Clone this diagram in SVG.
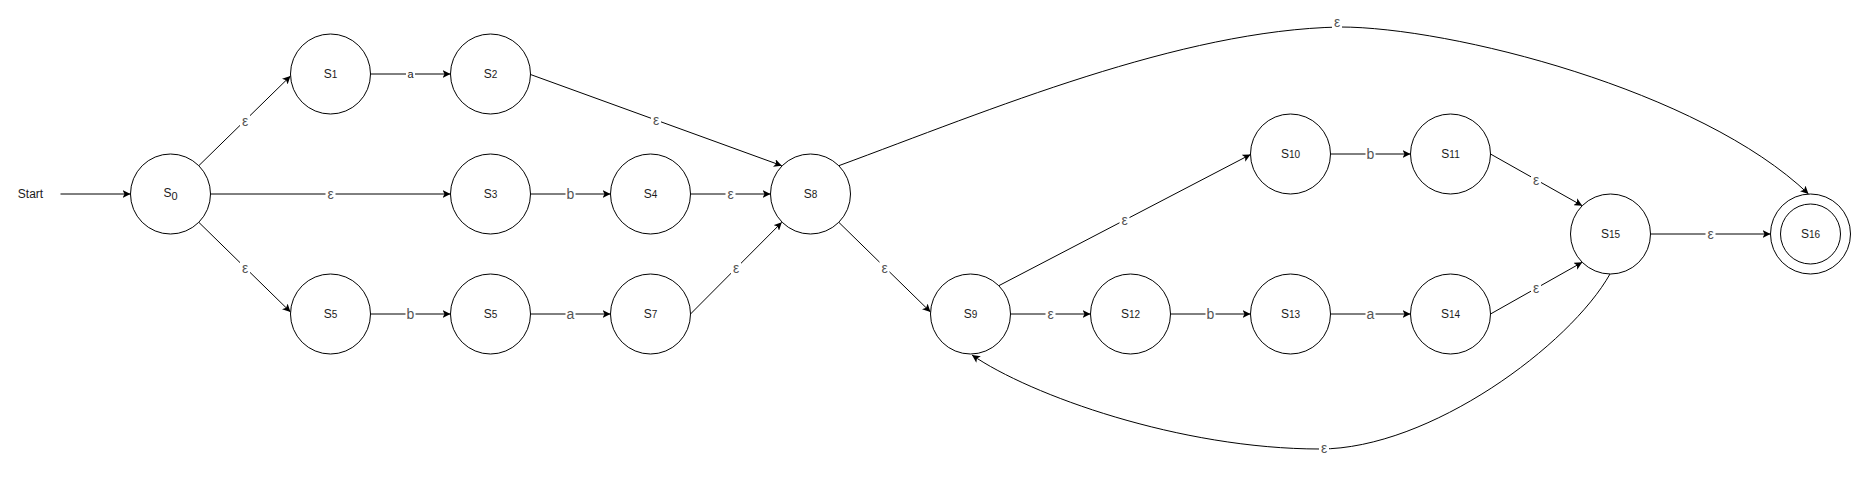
<svg xmlns="http://www.w3.org/2000/svg" width="1851" height="482" viewBox="0 0 1851 482">
<style>
.node{fill:#fff;stroke:#000;stroke-width:1}
.nt{font-family:"Liberation Sans",Arial,sans-serif;font-size:12px;fill:#1a1a1a;text-anchor:middle}
.sub{font-size:10px}
.edge{fill:none;stroke:#000;stroke-width:1;marker-end:url(#arr)}
.lbg{fill:#fff}
.lt{font-family:"Liberation Sans",Arial,sans-serif;font-size:14px;fill:#555;text-anchor:middle}
.lts{font-family:"Liberation Sans",Arial,sans-serif;font-size:11px;fill:#222;text-anchor:middle}
</style>
<defs>
<marker id="arr" viewBox="0 0 8 8" refX="8" refY="4" markerWidth="8" markerHeight="8" markerUnits="userSpaceOnUse" orient="auto">
<path d="M0,0 L8,4 L0,8 L2,4 Z" fill="#000"/>
</marker>
</defs>
<rect width="1851" height="482" fill="#fff"/>
<text class="nt" x="30.5" y="198">Start</text>
<g id="connectors">
<path class="edge" d="M60.5,194 H130.5"/>
<path class="edge" d="M198.8,165.7 L290.5,76"/>
<path class="edge" d="M210.5,194 H450.5"/>
<path class="edge" d="M198.8,222.3 L290.5,312"/>
<path class="edge" d="M370.5,74 H450.5"/>
<path class="edge" d="M530.5,194 H610.5"/>
<path class="edge" d="M370.5,314 H450.5"/>
<path class="edge" d="M530.5,314 H610.5"/>
<path class="edge" d="M530.5,74.5 L781.8,165.7"/>
<path class="edge" d="M690.5,194 H770.5"/>
<path class="edge" d="M690.5,314 L781.8,222.3"/>
<path class="edge" d="M838.8,222.3 L930.5,312"/>
<path class="edge" d="M998.8,285.7 L1250.5,154.5"/>
<path class="edge" d="M1010.5,314 H1090.5"/>
<path class="edge" d="M1170.5,314 H1250.5"/>
<path class="edge" d="M1330.5,154 H1410.5"/>
<path class="edge" d="M1330.5,314 H1410.5"/>
<path class="edge" d="M1490.5,154 L1582.2,205.7"/>
<path class="edge" d="M1490.5,314 L1582.2,262.3"/>
<path class="edge" d="M1650.5,234 H1770.5"/>
<path class="edge" d="M838.8,165.7 C990,110 1180,30 1340,27 C1450,27 1700,90 1808.5,194"/>
<path class="edge" d="M1610,274 C1570,345 1430,449 1320,449 C1180,449 1030,395 972,355"/>
<g id="edge-labels">
<rect class="lbg" x="240" y="114" width="10" height="14"/><text class="lt" x="245" y="126">ε</text>
<rect class="lbg" x="325.5" y="187" width="10" height="14"/><text class="lt" x="330.5" y="199">ε</text>
<rect class="lbg" x="240" y="261" width="10" height="14"/><text class="lt" x="245" y="273">ε</text>
<rect class="lbg" x="406" y="68" width="9" height="12"/><text class="lts" x="410.5" y="78">a</text>
<rect class="lbg" x="565.5" y="187" width="10" height="14"/><text class="lt" x="570.5" y="199">b</text>
<rect class="lbg" x="405.5" y="307" width="10" height="14"/><text class="lt" x="410.5" y="319">b</text>
<rect class="lbg" x="565.5" y="307" width="10" height="14"/><text class="lt" x="570.5" y="319">a</text>
<rect class="lbg" x="651" y="113" width="10" height="14"/><text class="lt" x="656" y="125">ε</text>
<rect class="lbg" x="725.5" y="187" width="10" height="14"/><text class="lt" x="730.5" y="199">ε</text>
<rect class="lbg" x="731" y="261" width="10" height="14"/><text class="lt" x="736" y="273">ε</text>
<rect class="lbg" x="879.5" y="261" width="10" height="14"/><text class="lt" x="884.5" y="273">ε</text>
<rect class="lbg" x="1119.5" y="213" width="10" height="14"/><text class="lt" x="1124.5" y="225">ε</text>
<rect class="lbg" x="1045.5" y="307" width="10" height="14"/><text class="lt" x="1050.5" y="319">ε</text>
<rect class="lbg" x="1205.5" y="307" width="10" height="14"/><text class="lt" x="1210.5" y="319">b</text>
<rect class="lbg" x="1365.5" y="147" width="10" height="14"/><text class="lt" x="1370.5" y="159">b</text>
<rect class="lbg" x="1365.5" y="307" width="10" height="14"/><text class="lt" x="1370.5" y="319">a</text>
<rect class="lbg" x="1531" y="173" width="10" height="14"/><text class="lt" x="1536" y="185">ε</text>
<rect class="lbg" x="1531" y="281" width="10" height="14"/><text class="lt" x="1536" y="293">ε</text>
<rect class="lbg" x="1705.5" y="227" width="10" height="14"/><text class="lt" x="1710.5" y="239">ε</text>
<rect class="lbg" x="1332" y="15" width="10" height="15"/><text class="lt" x="1337" y="27">ε</text>
<rect class="lbg" x="1319" y="441" width="10" height="14"/><text class="lt" x="1324" y="453">ε</text>
</g>
</g>
<g id="s0"><circle class="node" cx="170.5" cy="194" r="40"/><text class="nt" x="170.5" y="197">S<tspan font-size="11" dy="3">0</tspan></text></g>
<g id="s1"><circle class="node" cx="330.5" cy="74" r="40"/><text class="nt" x="330.5" y="78">S<tspan class="sub">1</tspan></text></g>
<g id="s2"><circle class="node" cx="490.5" cy="74" r="40"/><text class="nt" x="490.5" y="78">S<tspan class="sub">2</tspan></text></g>
<g id="s3"><circle class="node" cx="490.5" cy="194" r="40"/><text class="nt" x="490.5" y="198">S<tspan class="sub">3</tspan></text></g>
<g id="s4"><circle class="node" cx="650.5" cy="194" r="40"/><text class="nt" x="650.5" y="198">S<tspan class="sub">4</tspan></text></g>
<g id="s5a"><circle class="node" cx="330.5" cy="314" r="40"/><text class="nt" x="330.5" y="318">S<tspan class="sub">5</tspan></text></g>
<g id="s5b"><circle class="node" cx="490.5" cy="314" r="40"/><text class="nt" x="490.5" y="318">S<tspan class="sub">5</tspan></text></g>
<g id="s7"><circle class="node" cx="650.5" cy="314" r="40"/><text class="nt" x="650.5" y="318">S<tspan class="sub">7</tspan></text></g>
<g id="s8"><circle class="node" cx="810.5" cy="194" r="40"/><text class="nt" x="810.5" y="198">S<tspan class="sub">8</tspan></text></g>
<g id="s9"><circle class="node" cx="970.5" cy="314" r="40"/><text class="nt" x="970.5" y="318">S<tspan class="sub">9</tspan></text></g>
<g id="s10"><circle class="node" cx="1290.5" cy="154" r="40"/><text class="nt" x="1290.5" y="158">S<tspan class="sub">10</tspan></text></g>
<g id="s11"><circle class="node" cx="1450.5" cy="154" r="40"/><text class="nt" x="1450.5" y="158">S<tspan class="sub">11</tspan></text></g>
<g id="s12"><circle class="node" cx="1130.5" cy="314" r="40"/><text class="nt" x="1130.5" y="318">S<tspan class="sub">12</tspan></text></g>
<g id="s13"><circle class="node" cx="1290.5" cy="314" r="40"/><text class="nt" x="1290.5" y="318">S<tspan class="sub">13</tspan></text></g>
<g id="s14"><circle class="node" cx="1450.5" cy="314" r="40"/><text class="nt" x="1450.5" y="318">S<tspan class="sub">14</tspan></text></g>
<g id="s15"><circle class="node" cx="1610.5" cy="234" r="40"/><text class="nt" x="1610.5" y="238">S<tspan class="sub">15</tspan></text></g>
<g id="s16"><circle class="node" cx="1810.5" cy="234" r="40"/><circle class="node" cx="1810.5" cy="234" r="30"/><text class="nt" x="1810.5" y="238">S<tspan class="sub">16</tspan></text></g>
</svg>
